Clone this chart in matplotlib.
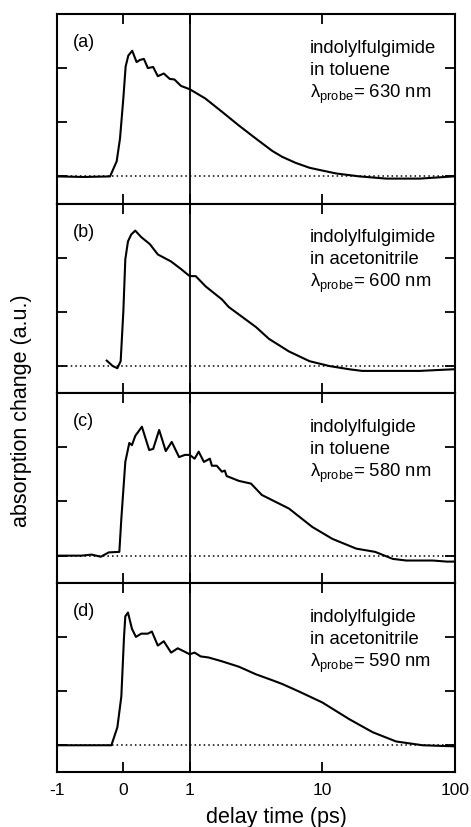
import numpy as np
import matplotlib
matplotlib.use("Agg")
import matplotlib.pyplot as plt

plt.rcParams['font.family'] = ['Liberation Sans', 'DejaVu Sans']
plt.rcParams['mathtext.fontset'] = 'custom'
plt.rcParams['mathtext.rm'] = 'Liberation Sans'
plt.rcParams['mathtext.it'] = 'Liberation Sans:italic'

# --- data (delay time in ps, absorption change in tick units) ---
t_a = [-1, -0.6, -0.2, -0.1, -0.05, 0, 0.035, 0.075, 0.134, 0.2, 0.25, 0.31, 0.37, 0.45,
       0.52, 0.61, 0.70, 0.77, 0.87, 1.0, 1.31, 1.76, 2.35, 3.15, 4.2, 5.0, 6.3, 8.0, 9.5,
       12.7, 19.1, 30.3, 54.4, 97, 100]
y_a = [0, -0.01, 0, 0.28, 0.70, 1.44, 2.03, 2.23, 2.32, 2.11, 2.15, 2.17, 2.0, 2.02,
       1.85, 1.90, 1.80, 1.79, 1.67, 1.61, 1.44, 1.19, 0.94, 0.70, 0.47, 0.36, 0.25, 0.16, 0.12,
       0.055, 0.0, -0.04, -0.04, 0.0, 0.0]

t_b = [-0.25, -0.16, -0.09, -0.04, 0, 0.03, 0.07, 0.12, 0.18, 0.27, 0.40, 0.52, 0.72,
       0.87, 1.0, 1.11, 1.32, 1.75, 1.97, 3.16, 3.97, 5.6, 8.0, 11.3, 16, 20, 30, 54, 97, 100]
y_b = [0.1, 0.0, -0.04, 0.09, 1.0, 1.97, 2.3, 2.43, 2.5, 2.38, 2.25, 2.06, 1.93,
       1.79, 1.66, 1.66, 1.47, 1.23, 1.09, 0.72, 0.5, 0.27, 0.09, 0.0, -0.06, -0.09,
       -0.09, -0.09, -0.06, -0.06]

t_c = [-1, -0.63, -0.48, -0.34, -0.22, -0.06, -0.03, 0.03, 0.09, 0.13, 0.18, 0.28,
       0.39, 0.45, 0.54, 0.64, 0.73, 0.84, 0.93, 1.0, 1.09, 1.17, 1.28, 1.42, 1.47,
       1.6, 1.75, 1.84, 1.9, 2.35, 2.9, 3.5, 5.6, 8.4, 11.9, 18, 25, 34, 43, 68, 87, 100]
y_c = [0, 0, 0.02, -0.02, 0.06, 0.07, 0.68, 1.73, 2.08, 2.04, 2.21, 2.38,
       1.95, 1.97, 2.32, 1.93, 2.10, 1.82, 1.86, 1.86, 1.79, 1.92, 1.73, 1.79, 1.66,
       1.66, 1.55, 1.57, 1.47, 1.38, 1.33, 1.12, 0.87, 0.53, 0.31, 0.13, 0.07, -0.06,
       -0.09, -0.09, -0.11, -0.11]

t_d = [-1, -0.18, -0.09, -0.03, 0.01, 0.03, 0.07, 0.13, 0.19, 0.27, 0.37, 0.43, 0.52,
       0.61, 0.72, 0.82, 0.92, 1.0, 1.09, 1.21, 1.39, 1.75, 2.35, 3.16, 4.2, 5.0, 6.7,
       10, 16, 24, 36, 57, 100]
y_d = [0, 0, 0.33, 0.9, 1.99, 2.38, 2.45, 2.15, 2.0, 2.06, 2.06, 2.1, 1.84,
       1.92, 1.71, 1.79, 1.73, 1.68, 1.71, 1.64, 1.62, 1.55, 1.45, 1.31, 1.2, 1.13, 0.99,
       0.79, 0.48, 0.24, 0.07, 0.0, -0.02]

panels = ['(a)', '(b)', '(c)', '(d)']
molecules = ['indolylfulgimide', 'indolylfulgimide', 'indolylfulgide', 'indolylfulgide']
solvents = ['in toluene', 'in acetonitrile', 'in toluene', 'in acetonitrile']
probes = [630, 600, 580, 590]
x_ticks = [-1, 0, 1, 10, 100]
x_ticklabels = ['-1', '0', '1', '10', '100']


# linear from -1 to 1, logarithmic from 1 to 100
def fwd(x):
    x = np.asarray(x, float)
    return np.where(x <= 1, x, 1 + 2 * np.log10(np.maximum(x, 1)))


def inv(u):
    u = np.asarray(u, float)
    return np.where(u <= 1, u, 10 ** ((np.maximum(u, 1) - 1) / 2))


fig, axes = plt.subplots(4, 1, figsize=(4.71, 8.28), dpi=100, sharex=True)
fig.subplots_adjust(left=0.121, right=0.966, top=0.982, bottom=0.066, hspace=0)

data = [(t_a, y_a), (t_b, y_b), (t_c, y_c), (t_d, y_d)]
for i, ax in enumerate(axes):
    t, y = data[i]
    ax.set_xscale('function', functions=(fwd, inv))
    ax.axhline(0, color='black', lw=1.1, ls=(0, (1, 2)))
    ax.axvline(1, color='black', lw=1.3)
    ax.plot(t, y, color='black', lw=1.5)

    ax.set_xlim(-1, 100)
    ax.set_ylim(-0.5, 3.0)
    ax.set_yticks([0, 1, 2])
    ax.set_yticklabels([])
    ax.set_xticks(x_ticks)
    ax.minorticks_off()
    ax.tick_params(direction='in', top=True, right=True, length=7, width=1.3)
    for sp in ax.spines.values():
        sp.set_linewidth(1.5)

    ax.text(0.04, 0.83, panels[i], transform=ax.transAxes, fontsize=13, va='baseline')
    ax.text(0.636, 0.80, molecules[i], transform=ax.transAxes, fontsize=13.3, va='baseline')
    ax.text(0.636, 0.684, solvents[i], transform=ax.transAxes, fontsize=13.3, va='baseline')
    ax.text(0.636, 0.563, 'λ$_{\\rm probe}$= %d nm' % probes[i], transform=ax.transAxes,
            fontsize=13.3, va='baseline')

axes[-1].set_xticklabels(x_ticklabels, fontsize=12.5)
axes[-1].tick_params(axis='x', pad=7)
for ax in axes[:-1]:
    ax.tick_params(labelbottom=False)

fig.text(22 / 471, 1 - 411 / 828, 'absorption change (a.u.)', rotation=90,
         ha='center', va='center', fontsize=15.5)
fig.text(276 / 471, 1 - 818 / 828, 'delay time (ps)', ha='center', va='center', fontsize=15.5)

fig.savefig('out.png', dpi=100)
